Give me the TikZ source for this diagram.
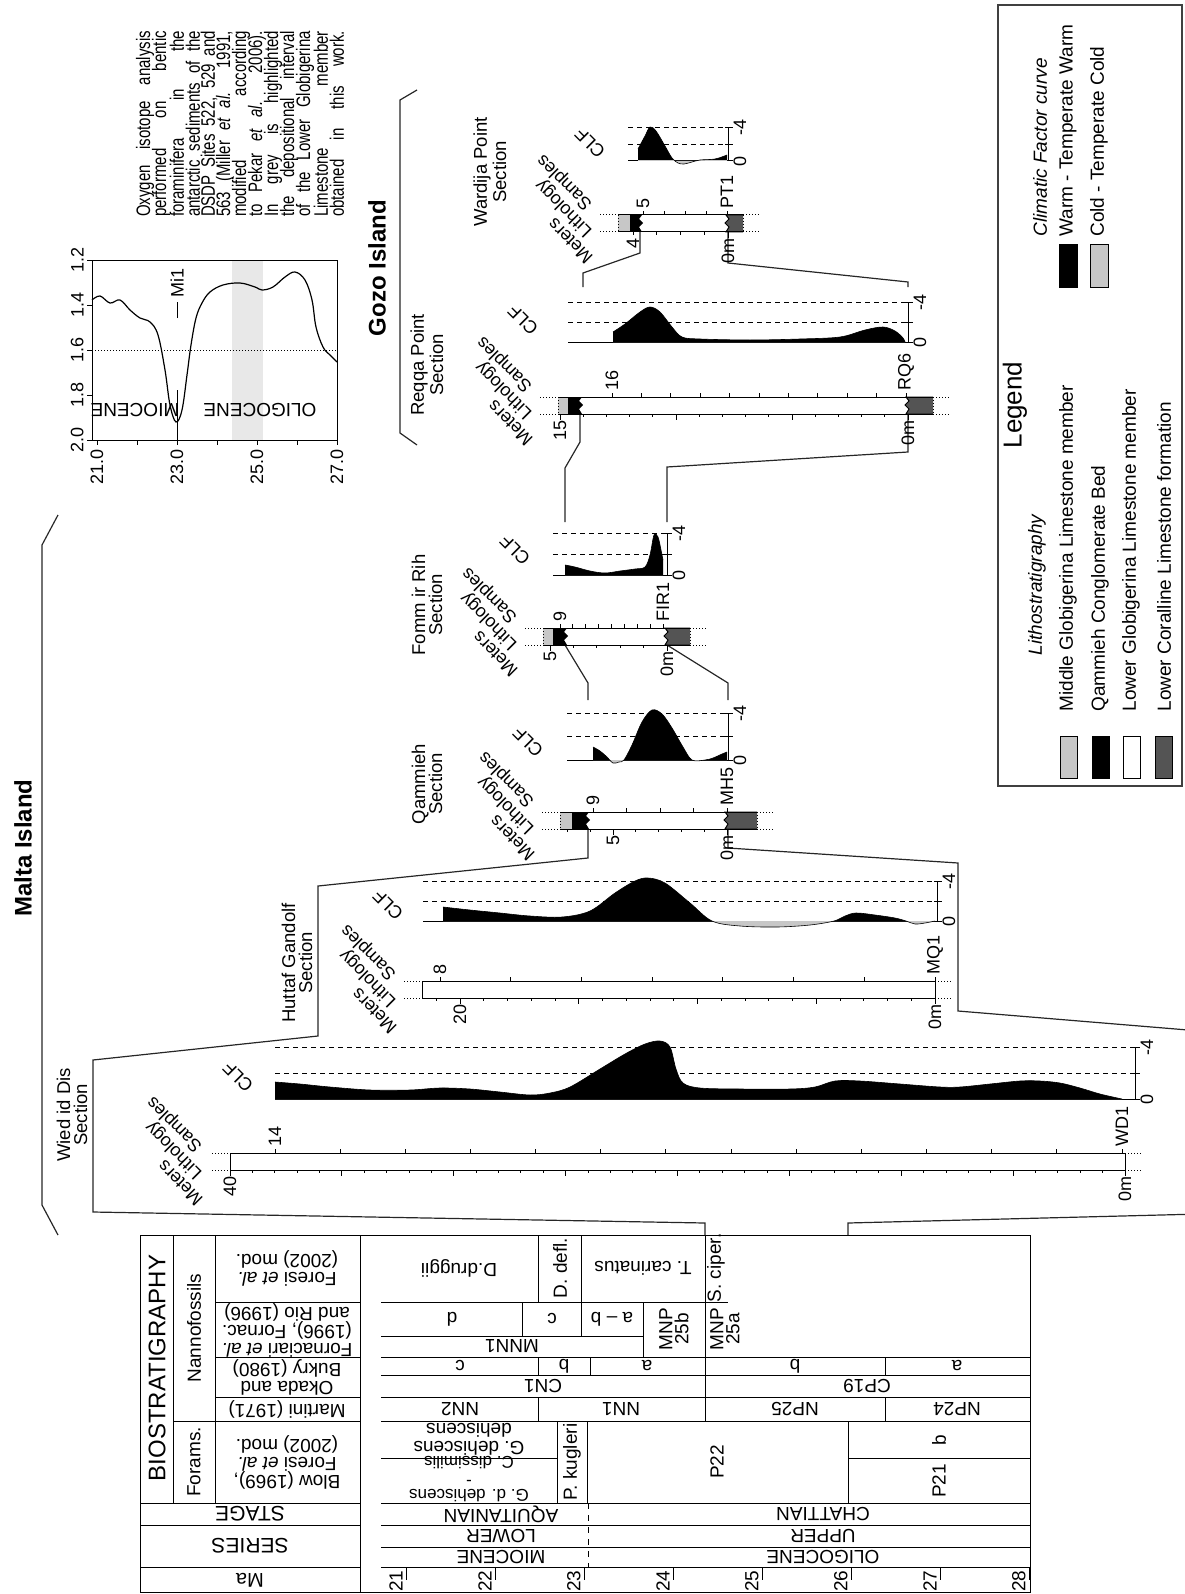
\documentclass[tikz,border=0pt]{standalone}
\usepackage{fontspec}
\setmainfont{Liberation Sans}
\usetikzlibrary{calc}
\definecolor{litegrey}{gray}{0.78}
\definecolor{darkgrey}{gray}{0.33}
\definecolor{bandgrey}{gray}{0.91}
\newcommand{\fsz}[1]{\fontsize{#1}{#1}\selectfont}
\newcommand{\mticks}[5]{%
  \foreach \m in {0,...,#3} {\draw ({#1-\m*#2},#4) -- ++(0,3);}
  \foreach \m in {#5} {\draw ({#1-\m*#2},#4) -- ++(0,6);}}
\newcommand{\sticks}[4]{%
  \foreach \s in {1,...,#3} {\draw ({#1+(\s-1)*(#2-#1)/(#3-1)},#4) -- ++(0,-4);}}
\newcommand{\litho}[6]{%
  \fill[litegrey] (#2,#1) rectangle (#3,#1+17);
  \fill (#3,#1) -- (#4+2,#1) -- (#4-1,#1+4) -- (#4+3,#1+8) -- (#4-1,#1+12) -- (#4+2,#1+17) -- (#3,#1+17) -- cycle;
  \filldraw[fill=darkgrey] (#6,#1) -- (#5-2,#1) -- (#5+1,#1+4) -- (#5-3,#1+8) -- (#5+1,#1+12) -- (#5-2,#1+17) -- (#6,#1+17);
  \draw (#2,#1) -- (#6,#1) (#2,#1+17) -- (#6,#1+17);
  \draw[densely dotted] (#2,#1) -- (#2,#1+17) (#6,#1) -- (#6,#1+17)
    (#2-18,#1) -- (#2,#1) (#2-18,#1+17) -- (#2,#1+17)
    (#6,#1) -- (#6+18,#1) (#6,#1+17) -- (#6+18,#1+17);}
\newcommand{\clfaxis}[4]{%
  \draw[dsh] (#4,#2-2*#3) -- (#1,#2-2*#3) (#4,#2-4*#3) -- (#1,#2-4*#3);
  \draw (#4,#2) -- (#1,#2) -- (#1,#2-4*#3);
  \draw (#1-3,#2-2*#3) -- (#1+5,#2-2*#3) (#1-3,#2-4*#3) -- (#1+5,#2-4*#3) (#1,#2) -- (#1+5,#2);
  \node[up] at (#1+12,#2) {0};
  \node[up] at (#1+12,#2-4*#3) {-4};}
\newcommand{\clf}[4]{%
  \begin{scope}[shift={(0,#1)}]
    \begin{scope}
      \clip (#2,0) rectangle (#3,-120);
      \fill (#2,0) -- plot[smooth,tension=0.55] coordinates {#4} -- (#3,0) -- cycle;
    \end{scope}
    \begin{scope}
      \clip (#2,0) rectangle (#3,60);
      \fill[litegrey] (#2,0) -- plot[smooth,tension=0.55] coordinates {#4} -- (#3,0) -- cycle;
    \end{scope}
    \draw[line width=0.3pt] plot[smooth,tension=0.55] coordinates {#4};
  \end{scope}}
\newcommand{\mls}[2]{%
  \node[diag] at (#1,#2) {Meters};
  \node[diag] at (#1,#2-27) {Lithology};
  \node[diag] at (#1,#2-54) {Samples};}

\begin{document}
\begin{tikzpicture}[x=0.5pt,y=-0.5pt,line width=0.5pt,
    lbl/.style={inner sep=0pt,font=\fsz{9}},
    up/.style={lbl,rotate=90},
    flip/.style={lbl,rotate=180,align=center,font=\fontsize{9.5}{9}\selectfont},
    diag/.style={lbl,rotate=135,anchor=west},
    sectitle/.style={up,align=center,font=\fontsize{9.25}{8.5}\selectfont},
    isle/.style={up,font=\bfseries\fsz{12}},
    noteline/.style={up,yscale=1.3,font=\fsz{7.5}},
    linkline/.style={line width=0.6pt,draw=black!85},
    dsh/.style={dash pattern=on 2.5pt off 2pt}]
\useasboundingbox (0,0) rectangle (1184,1594);

\draw (140,1235) -- (1030,1235) -- (1030,1592) -- (140,1592) -- cycle;
\draw (360,1235) -- (360,1592);
\draw (173,1235) -- (173,1503) (215,1235) -- (215,1503);
\draw (173,1421) -- (360,1421);
\foreach \y in {1302,1357,1397} {\draw (215,\y) -- (360,\y);}
\foreach \y in {1503,1525,1567} {\draw (140,\y) -- (360,\y);}
\foreach \y in {1357,1375,1397,1421,1503,1525,1547,1567} {\draw (381,\y) -- (1030,\y);}
\draw (381,1302) -- (728,1302) (381,1336) -- (643,1336);
\draw (381,1458) -- (557,1458) (848,1458) -- (1030,1458);
\draw (538,1235) -- (538,1302) (581,1235) -- (581,1336) (705,1235) -- (705,1421);
\draw (522,1302) -- (522,1336) (643,1302) -- (643,1357);
\draw (538,1357) -- (538,1375) (590,1357) -- (590,1375) (885,1357) -- (885,1375);
\draw (538,1397) -- (538,1421) (885,1397) -- (885,1421);
\draw (557,1421) -- (557,1503) (587,1421) -- (587,1503) (848,1421) -- (848,1503);
\draw[dashed] (588,1503) -- (588,1567);
\foreach \m in {21,...,28} {
  \draw ({406+(\m-21)*89},1567) -- ++(0,13);
  \node[up,anchor=south,font=\fsz{9.5}] at ({403+(\m-21)*89},1581) {\m};}

\node[up,font=\fsz{12}] at (157,1368) {BIOSTRATIGRAPHY};
\node[up,font=\fsz{9.5}] at (194,1328) {Nannofossils};
\node[up,font=\fsz{9.5}] at (194,1462) {Forams.};
\node[flip] at (287,1268) {Foresi \textit{et al.}\\(2002) mod.};
\node[flip] at (287,1330) {Fornaciari \textit{et al.}\\(1996), Fornac.\\and Rio (1996)};
\node[flip] at (287,1377) {Okada and\\Bukry (1980)};
\node[flip] at (287,1409) {Martini (1971)};
\node[flip] at (287,1462) {Blow (1969),\\Foresi \textit{et al.}\\(2002) mod.};
\node[flip,font=\fsz{10.5}] at (250,1514) {STAGE};
\node[flip,font=\fsz{10.5}] at (250,1546) {SERIES};
\node[flip,font=\fsz{10}] at (250,1580) {Ma};

\node[flip] at (459,1268) {D.druggii};
\node[up,font=\fsz{9.5}] at (560,1268) {D. defl.};
\node[flip] at (643,1268) {T. carinatus};
\node[up,font=\fsz{9.5}] at (716,1268) {S. ciper.};
\node[flip] at (452,1319) {d};
\node[flip] at (552,1319) {c};
\node[flip] at (612,1319) {a -- b};
\node[flip] at (512,1346) {MNN1};
\node[up,align=center,font=\fontsize{9.5}{8}\selectfont] at (674,1329) {MNP\\25b};
\node[up,align=center,font=\fontsize{9.5}{8}\selectfont] at (725,1329) {MNP\\25a};
\node[flip] at (460,1366) {c};
\node[flip] at (564,1366) {b};
\node[flip] at (647,1366) {a};
\node[flip] at (795,1366) {b};
\node[flip] at (957,1366) {a};
\node[flip] at (543,1386) {CN1};
\node[flip] at (867,1386) {CP19};
\node[flip] at (460,1409) {NN2};
\node[flip] at (621,1409) {NN1};
\node[flip] at (795,1409) {NP25};
\node[flip] at (957,1409) {NP24};
\node[flip] at (469,1439) {G. dehiscens\\dehiscens};
\node[flip,font=\fsz{8.5}] at (469,1463) {C. dissimilis};
\node[flip,font=\fsz{8.5}] at (469,1479) {-};
\node[flip,font=\fsz{8.5}] at (469,1496) {G. d. dehiscens};
\node[up,font=\fsz{9.5}] at (572,1462) {P. kugleri};
\node[up,font=\fsz{9.5}] at (717,1462) {P22};
\node[up,font=\fsz{9.5}] at (939,1440) {b};
\node[up,font=\fsz{9.5}] at (939,1481) {P21};
\node[flip] at (501,1514) {AQUITANIAN};
\node[flip] at (823,1514) {CHATTIAN};
\node[flip] at (501,1536) {LOWER};
\node[flip] at (823,1536) {UPPER};
\node[flip] at (501,1557) {MIOCENE};
\node[flip] at (823,1557) {OLIGOCENE};

\fill[bandgrey] (232,260) rectangle (263,440);
\draw (92,260) rectangle (337,440);
\draw[densely dotted] (92,350) -- (337,350);
\draw[line width=0.6pt] plot[smooth,tension=0.6] coordinates {(92,300) (100,296) (110,303) (120,300) (130,310) (140,318) (150,322) (158,335) (165,370) (170,405) (176,422) (182,410) (187,375) (191,345) (196,318) (202,303) (210,292) (223,285) (240,283) (255,287) (262,290) (273,287) (285,277) (295,272) (305,280) (312,300) (316,327) (323,347) (330,355) (337,362)};
\foreach \i in {0,...,6} {\draw ({97+40*\i},440) -- ++(0,5);}
\foreach \a [count=\i from 0] in {21.0,23.0,25.0,27.0} {\node[up,anchor=east] at ({97+80*\i},449) {\a};}
\foreach \d [count=\i from 0] in {2.0,1.8,1.6,1.4,1.2} {
  \draw (92,{440-45*\i}) -- ++(-5,0);
  \node[up,anchor=south] at (84,{440-45*\i}) {\d};}
\draw (177,390) -- (177,440);
\node[flip] at (135,410) {MIOCENE};
\node[flip] at (260,410) {OLIGOCENE};
\draw (177,318) -- (177,302);
\node[up,anchor=west] at (177,298) {Mi1};
\foreach \t [count=\i from 0] in {{Oxygen isotope analysis},{performed on bentic},{foraminifera in the},{antarctic sediments of the},{DSDP Sites 522, 529 and},{563 (Miller \textit{et al.} 1991,},{modified according},{to Pekar \textit{et al.} 2006).},{In grey is highlighted},{the depositional interval},{of the Lower Globigerina},{Limestone member},{obtained in this work.}}
  {\node[noteline] at ({145+16*\i},124) {\makebox[93pt][s]{\t}};}

\draw[line width=0.8pt,draw=black!75] (998,5) rectangle (1182,786);
\node[up,font=\fsz{13}] at (1015,405) {Legend};
\node[up,font=\itshape\fsz{9.5}] at (1037,585) {Lithostratigraphy};
\draw[fill=litegrey] (1060,736) rectangle (1077,778);
\draw[fill=black] (1092,736) rectangle (1109,778);
\draw[fill=white] (1123,736) rectangle (1140,778);
\draw[fill=darkgrey] (1155,736) rectangle (1172,778);
\node[up,anchor=west,font=\fsz{9.5}] at (1068,712) {Middle Globigerina Limestone member};
\node[up,anchor=west,font=\fsz{9.5}] at (1100,712) {Qammieh Conglomerate Bed};
\node[up,anchor=west,font=\fsz{9.5}] at (1131,712) {Lower Globigerina Limestone member};
\node[up,anchor=west,font=\fsz{9.5}] at (1164,712) {Lower Coralline Limestone formation};
\node[up,anchor=west,font=\itshape\fsz{9.5}] at (1040,237) {Climatic Factor curve};
\draw[fill=black] (1059,245) rectangle (1077,287);
\draw[fill=litegrey] (1090,245) rectangle (1108,287);
\node[up,anchor=west,font=\fsz{9.5}] at (1068,237) {Warm - Temperate Warm};
\node[up,anchor=west,font=\fsz{9.5}] at (1099,237) {Cold - Temperate Cold};

\node[isle] at (23,848) {Malta Island};
\draw[linkline] (58,515) -- (42,545) -- (42,1205) -- (58,1235);
\node[isle] at (377,268) {Gozo Island};
\draw[linkline] (417,90) -- (400,100) -- (400,433) -- (417,445);

\node[sectitle] at (72,1115) {Wied id Dis\\Section};
\node[sectitle] at (297,963) {Huttaf Gandolf\\Section};
\node[sectitle] at (427,784) {Qammieh\\Section};
\node[sectitle] at (427,605) {Fomm ir Rih\\Section};
\node[sectitle] at (427,365) {Reqqa Point\\Section};
\node[sectitle] at (490,172) {Wardija Point\\Section};

\draw[linkline] (705,1235) -- (705,1223) -- (93,1212) -- (93,1060) -- (318,1036) -- (318,886) -- (588,858) -- (588,829);
\draw[linkline] (728,829) -- (728,848) -- (958,863) -- (958,1011) -- (1200,1031);
\draw[linkline] (848,1235) -- (848,1223) -- (1200,1214);
\draw[linkline] (565,645) -- (588,683) -- (588,700);
\draw[linkline] (667,645) -- (728,683) -- (728,700);
\draw[linkline] (580,414) -- (580,442) -- (565,468) -- (565,522);
\draw[linkline] (908,414) -- (908,452) -- (667,467) -- (667,522);
\draw[linkline] (640,232) -- (640,253) -- (583,273) -- (583,287);
\draw[linkline] (728,232) -- (728,263) -- (908,282) -- (908,287);

\draw (230,1153) rectangle (1125,1170);
\draw[densely dotted] (212,1153) -- (230,1153) (212,1170) -- (230,1170) (1125,1153) -- (1143,1153) (1125,1170) -- (1143,1170);
\mticks{1125}{22.375}{40}{1170}{0,5,...,40}
\sticks{1122}{275}{14}{1153}
\node[up,anchor=east] at (230,1176) {40};
\node[up,anchor=east] at (1125,1176) {0m};
\node[up,anchor=west] at (275,1147) {14};
\node[up,anchor=west] at (1122,1147) {WD1};
\clfaxis{1135}{1099}{13}{275}
\clf{1099}{275}{1122}{(275,-17) (300,-15) (330,-12) (370,-9) (410,-9) (440,-11) (470,-10) (500,-7) (530,-4) (550,-6) (570,-12) (600,-30) (625,-45) (645,-55) (660,-58) (670,-52) (676,-30) (683,-16) (700,-11) (740,-10) (790,-10) (815,-12) (835,-18) (860,-18) (900,-15) (940,-12) (960,-12) (990,-15) (1020,-18) (1040,-18) (1060,-16) (1080,-11) (1100,-5) (1122,0)}
\mls{200}{1203}
\node[diag,anchor=center] at (238,1077) {CLF};

\draw (422,981) rectangle (935,998);
\draw[densely dotted] (404,981) -- (422,981) (404,998) -- (422,998) (935,981) -- (953,981) (935,998) -- (953,998);
\mticks{935}{23.75}{21}{998}{0,5,...,20}
\sticks{935}{440}{8}{981}
\node[up,anchor=east] at (460,1004) {20};
\node[up,anchor=east] at (935,1004) {0m};
\node[up,anchor=west] at (440,975) {8};
\node[up,anchor=west] at (935,975) {MQ1};
\clfaxis{937}{921}{10}{423}
\clf{921}{443}{935}{(443,-14) (470,-11) (500,-8) (530,-5) (562,-4) (590,-10) (615,-28) (635,-40) (648,-43) (665,-38) (690,-18) (712,0) (740,5) (777,6) (810,4) (834,0) (845,-5) (856,-8) (875,-6) (895,-3) (906,0) (915,3) (925,2) (935,0)}
\mls{394}{1031}
\node[diag,anchor=center] at (388,905) {CLF};

\litho{812}{560}{572}{587}{727}{757}
\mticks{727}{22.8}{7}{829}{0,5}
\sticks{727}{593}{5}{812}
\node[up,anchor=east] at (613,835) {5};
\node[up,anchor=east] at (727,835) {0m};
\node[up,anchor=west] at (593,806) {9};
\node[up,anchor=west] at (727,806) {MH5};
\clfaxis{728}{760}{11.75}{567}
\clf{760}{593}{727}{(593,-13) (600,-9) (607,-3) (613,3) (619,2) (624,0) (632,-15) (642,-38) (652,-50) (662,-46) (672,-32) (683,-13) (692,0) (705,0) (713,-2) (722,-6) (727,-8)}
\mls{532}{858}
\node[diag,anchor=center] at (528,742) {CLF};

\litho{628}{543}{553}{565}{667}{690}
\mticks{667}{23.4}{5}{645}{0,5}
\sticks{663}{560}{9}{628}
\node[up,anchor=east] at (550,651) {5};
\node[up,anchor=east] at (667,651) {0m};
\node[up,anchor=west] at (560,622) {9};
\node[up,anchor=west] at (663,622) {FIR1};
\clfaxis{667}{575}{10.5}{553}
\clf{575}{565}{663}{(565,-10) (575,-8) (590,-4) (605,-2) (620,-4) (635,-6) (645,-8) (650,-20) (654,-40) (658,-38) (661,-25) (663,-15)}
\mls{515}{674}
\node[diag,anchor=center] at (515,550) {CLF};

\litho{397}{558}{568}{580}{908}{933}
\mticks{908}{23.2}{15}{414}{0,5,10,15}
\sticks{906}{612}{11}{397}
\node[up,anchor=east] at (560,420) {15};
\node[up,anchor=east] at (908,420) {0m};
\node[up,anchor=west] at (612,391) {16};
\node[up,anchor=west] at (906,391) {RQ6};
\clfaxis{908}{342}{10}{568}
\clf{342}{613}{905}{(613,-10) (625,-18) (640,-30) (650,-35) (660,-30) (672,-15) (682,-5) (700,-3) (750,-2) (800,-3) (840,-5) (865,-12) (883,-15) (895,-11) (903,-4) (905,0)}
\mls{530}{443}
\node[diag,anchor=center] at (523,320) {CLF};

\litho{215}{618}{630}{640}{728}{743}
\mticks{728}{23.75}{4}{232}{0}
\sticks{727}{643}{5}{215}
\node[up,anchor=east] at (633,238) {4};
\node[up,anchor=east] at (728,238) {0m};
\node[up,anchor=west] at (643,209) {5};
\node[up,anchor=west] at (727,209) {PT1};
\clfaxis{728}{161}{8.3}{628}
\clf{161}{638}{727}{(638,-12) (645,-25) (650,-34) (656,-30) (665,-15) (672,-3) (678,2) (684,3) (692,1) (700,-1) (715,-2) (727,-6)}
\mls{590}{261}
\node[diag,anchor=center] at (590,143) {CLF};
\end{tikzpicture}
\end{document}
